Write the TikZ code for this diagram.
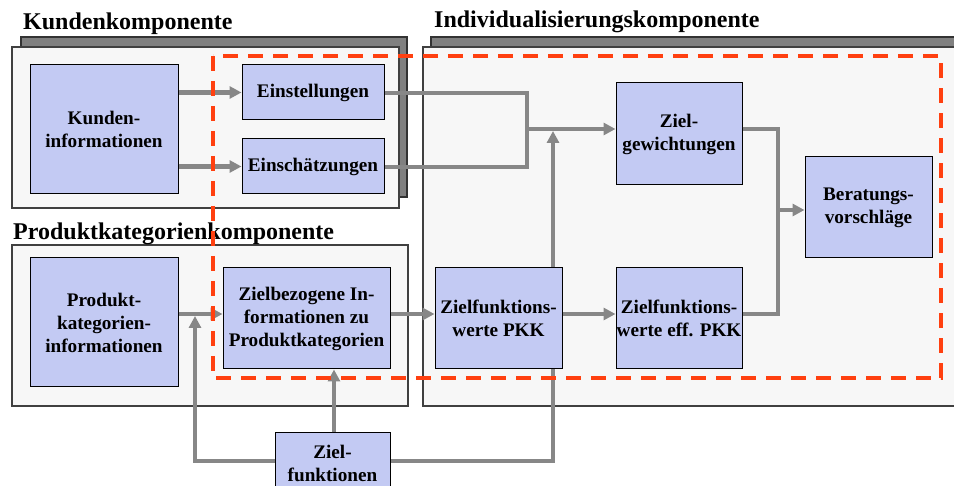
\documentclass[tikz,border=0pt]{standalone}
\usepackage{fontspec}
\setmainfont{Liberation Serif}
\usetikzlibrary{arrows.meta}
\definecolor{nodefill}{RGB}{195,202,243}
\definecolor{boxfill}{RGB}{247,247,247}
\definecolor{shadowgray}{RGB}{128,128,128}
\definecolor{arrowgray}{RGB}{135,135,135}
\definecolor{dashred}{RGB}{255,64,16}
\pgfdeclarelayer{boxes}
\pgfdeclarelayer{under}
\pgfsetlayers{boxes,under,main}
\begin{document}
\begin{tikzpicture}[x=1pt,y=-1pt,
  comp/.style={draw=black!75, line width=1.2pt, fill=boxfill},
  shadowbox/.style={draw=black!80, line width=1.2pt, fill=shadowgray},
  title/.style={anchor=base west, inner sep=0pt, font=\bfseries\fontsize{24}{28}\selectfont},
  blk/.style={draw=black, line width=1pt, fill=nodefill, align=center, inner sep=0pt,
    font=\bfseries\fontsize{19.2}{23}\selectfont},
  conn/.style={color=arrowgray, line width=4.2pt, line join=miter},
  arr/.style={conn, -{Triangle[length=12pt,width=12pt]}},
  region/.style={draw=dashred, line width=4pt, dash pattern=on 15pt off 10pt}]
\useasboundingbox (0,0) rectangle (954,486);

% component boxes
\begin{pgfonlayer}{boxes}
  \draw[shadowbox] (21,37) rectangle (407,197);
  \draw[comp] (12,47) rectangle (399,208);
  \draw[shadowbox] (431,37) rectangle (975,396);
  \draw[comp] (423,47) rectangle (975,406);
  \draw[comp] (12,245) rectangle (408,406);
\end{pgfonlayer}

% titles
\node[title] (tk) at (23,30) {Kundenkomponente};
\node[title] (ti) at (434,28) {Individualisierungskomponente};
\node[title] (tp) at (13,240) {Produktkategorienkomponente};

% blocks
\node[blk, minimum width=148pt, minimum height=129pt] (kinfo) at (104,129.5) {Kunden-\\informationen};
\node[blk, minimum width=142pt, minimum height=55pt] (einst) at (313,92.5) {Einstellungen};
\node[blk, minimum width=142pt, minimum height=55pt] (einsch) at (313,166.5) {Einschätzungen};
\node[blk, minimum width=148pt, minimum height=129pt] (pinfo) at (104,322.5) {Produkt-\\kategorien-\\informationen};
\node[blk, minimum width=167pt, minimum height=101pt] (zinfo) at (306.5,318.5) {Zielbezogene In-\\formationen zu\\Produktkategorien};
\node[blk, minimum width=127pt, minimum height=101pt] (zpkk) at (498.5,318.5) {Zielfunktions-\\werte PKK};
\node[blk, minimum width=126pt, minimum height=101pt] (zeff) at (679,318.5) {Zielfunktions-\\werte eff. PKK};
\node[blk, minimum width=126pt, minimum height=102pt] (zgew) at (679,134) {Ziel-\\gewichtungen};
\node[blk, minimum width=127pt, minimum height=101pt] (berat) at (868.5,207.5) {Beratungs-\\vorschläge};
\node[blk, minimum width=115pt, minimum height=60pt] (zfunk) at (332.5,463) {Ziel-\\funktionen};

% junction coordinates
\coordinate (j1) at (527,129);
\coordinate (tipz) at (553,131);
\coordinate (j2) at (778,210);
\coordinate (tipp) at (195,316);

% line passing behind the PKK block
\begin{pgfonlayer}{under}
  \draw[arr] (zfunk.east |- 0,461) -- (tipz |- 0,461) -- (tipz);
\end{pgfonlayer}

% connectors
\draw[arr] (kinfo.east |- einst) -- (einst.west);
\draw[arr] (kinfo.east |- einsch) -- (einsch.west);
\draw[conn] (einst.east |- 0,93) -- (j1 |- 0,93) -- (j1 |- 0,167) -- (einsch.east |- 0,167);
\draw[arr] (j1) -- (zgew.west |- j1);
\draw[arr] (pinfo.east |- 0,314) -- (zinfo.west |- 0,314);
\draw[arr] (zinfo.east |- 0,314) -- (zpkk.west |- 0,314);
\draw[arr] (zpkk.east |- 0,314) -- (zeff.west |- 0,314);
\draw[conn] (zgew.east |- j1) -- (j2 |- j1) -- (j2 |- 0,314) -- (zeff.east |- 0,314);
\draw[arr] (j2) -- (berat.west |- j2);
\draw[arr] (zfunk.west |- 0,461) -- (tipp |- 0,461) -- (tipp);
\draw[arr] (zfunk.north -| 334,0) -- (zinfo.south -| 334,0);

% dashed region
\draw[region] (213,56) rectangle (941,378);
\end{tikzpicture}
\end{document}
